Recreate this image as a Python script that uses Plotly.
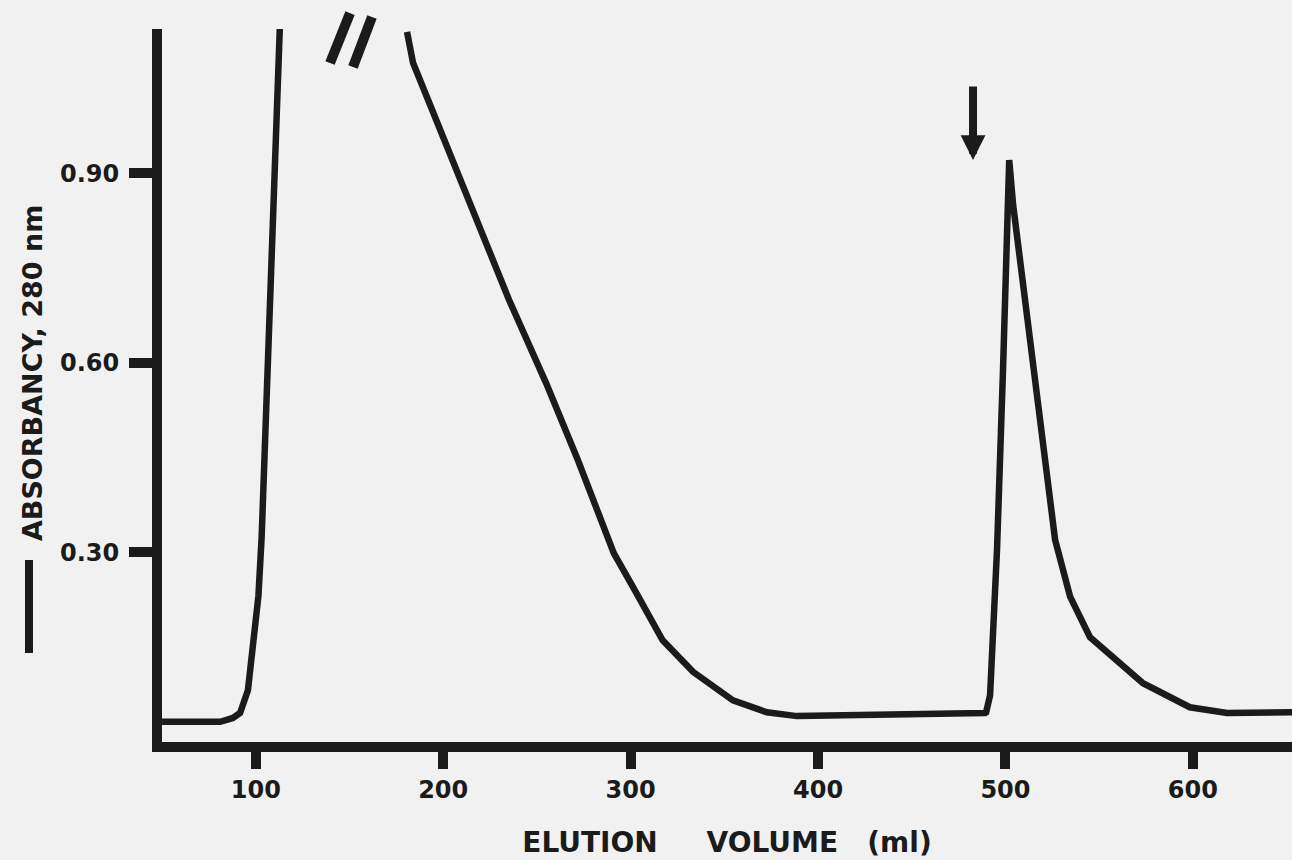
import plotly.graph_objects as go

# ---- data (elution volume in ml, absorbance at 280 nm) ----
# first peak: steep rise (goes off scale) -- break -- its descending side, baseline, second peak
volume_rise = [50.0, 81.0, 87.8, 91.6, 95.8, 98.5, 101.4, 103.1, 104.8, 106.9, 109.6, 112.8]
absorb_rise = [0.032, 0.032, 0.038, 0.046, 0.082, 0.146, 0.231, 0.323, 0.462, 0.636, 0.900, 1.129]

volume_fall = [180.7, 182.3, 183.9, 235.1, 254.9, 271.9, 291.0, 301.3, 310.4, 317.1,
               333.3, 354.6, 372.7, 388.7, 489.1]
absorb_fall = [1.124, 1.098, 1.075, 0.700, 0.568, 0.446, 0.299, 0.245, 0.198, 0.161,
               0.111, 0.066, 0.047, 0.041, 0.046]

volume_peak2 = [489.7, 491.8, 495.5, 498.7, 502.0, 504.1, 523.8, 526.5, 534.5, 545.1,
                573.4, 587.8, 598.4, 618.2, 652.9]
absorb_peak2 = [0.047, 0.074, 0.304, 0.589, 0.921, 0.850, 0.383, 0.320, 0.230, 0.166,
                0.093, 0.070, 0.055, 0.046, 0.047]

x_ticks = [100, 200, 300, 400, 500, 600]
y_ticks = [0.30, 0.60, 0.90]
y_tick_text = ["0.30", "0.60", "0.90"]

arrow_volume = 482.7      # buffer change marker
arrow_absorb = 0.921

X_RANGE = [49.95, 652.9]
Y_RANGE = [0, 1.1285]

INK = "#1b1b1b"
PAPER = "#f1f1f1"
FONT = "DejaVu Sans"

volume = volume_rise + [None] + volume_fall + volume_peak2
absorb = absorb_rise + [None] + absorb_fall + absorb_peak2

fig = go.Figure()
fig.add_trace(go.Scatter(
    x=volume, y=absorb, mode="lines",
    line=dict(color=INK, width=6.5),
    connectgaps=False, showlegend=False, hoverinfo="skip",
))

fig.update_layout(
    width=1292, height=860,
    margin=dict(l=162, r=0, t=29, b=118),
    paper_bgcolor=PAPER, plot_bgcolor=PAPER,
    showlegend=False,
    font=dict(family=FONT, color=INK),
)

fig.update_xaxes(
    range=X_RANGE, showgrid=False, zeroline=False,
    showline=True, linewidth=10, linecolor=INK,
    ticks="outside", ticklen=17, tickwidth=10, tickcolor=INK,
    tickvals=x_ticks,
    tickfont=dict(family=FONT, size=24, color=INK, weight="bold"),
    title=dict(text="ELUTION\u00a0\u00a0\u00a0\u00a0\u00a0VOLUME\u00a0\u00a0\u00a0(ml)",
               font=dict(family=FONT, size=28, color=INK, weight="bold"),
               standoff=34),
)
fig.update_yaxes(
    range=Y_RANGE, showgrid=False, zeroline=False,
    showline=True, linewidth=10, linecolor=INK,
    ticks="outside", ticklen=23, tickwidth=10, tickcolor=INK,
    tickvals=y_ticks, ticktext=y_tick_text,
    ticklabelstandoff=5,
    tickfont=dict(family=FONT, size=24, color=INK, weight="bold"),
)

# y-axis label with its line-sample bar
fig.add_annotation(
    text="ABSORBANCY, 280 nm", textangle=-90,
    xref="paper", yref="paper", x=-0.115, y=0.5175,
    xanchor="center", yanchor="middle", showarrow=False,
    font=dict(family=FONT, size=27, color=INK, weight="bold"),
)
fig.add_shape(type="line", xref="paper", yref="paper",
              x0=-0.1177, x1=-0.1177, y0=0.1248, y1=0.2553,
              line=dict(color=INK, width=8))

# axis-break marks "//"
break_marks = [((0.1664, 1.0224), (0.1487, 0.9523)), ((0.1858, 1.0168), (0.1690, 0.9467))]
for (bx0, by0), (bx1, by1) in break_marks:
    fig.add_shape(type="line", xref="paper", yref="paper",
                  x0=bx0, y0=by0, x1=bx1, y1=by1,
                  line=dict(color=INK, width=10))

# arrow marking the start of the second elution step
fig.add_annotation(
    x=arrow_volume, y=arrow_absorb, xref="x", yref="y",
    text="", showarrow=True, ax=0, ay=-75,
    arrowhead=2, arrowsize=0.62, arrowwidth=8, arrowcolor=INK,
)

fig.write_html("out.html")
